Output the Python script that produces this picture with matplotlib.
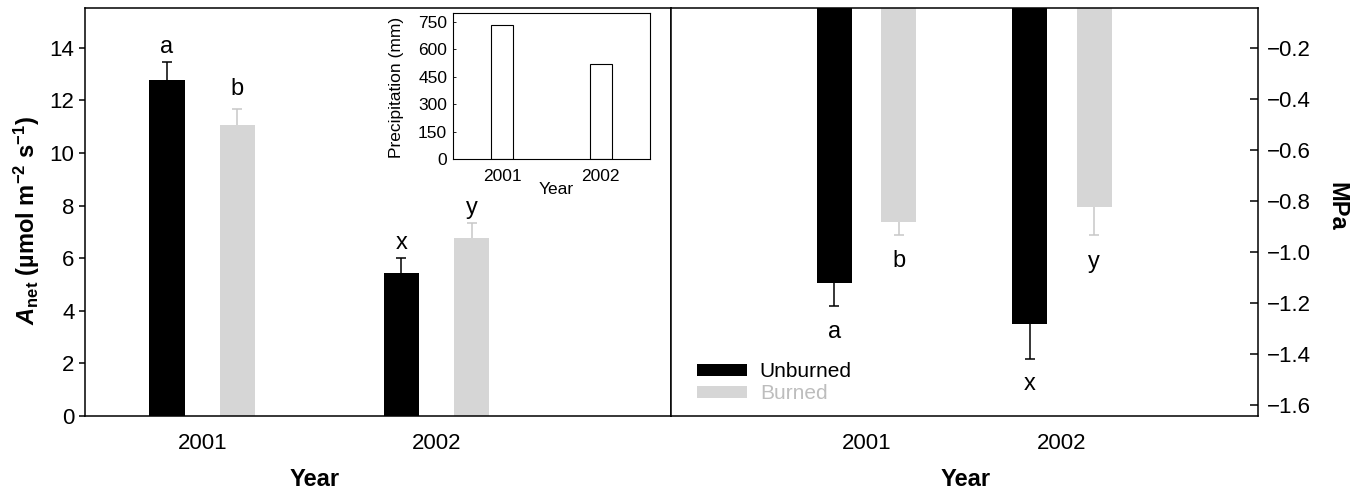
import matplotlib
matplotlib.use('Agg')
import matplotlib.pyplot as plt
from matplotlib.patches import Patch
import numpy as np

plt.rcParams['font.family'] = ['Liberation Sans', 'DejaVu Sans']
plt.rcParams['mathtext.fontset'] = 'custom'
plt.rcParams['mathtext.rm'] = 'Liberation Sans'
plt.rcParams['mathtext.it'] = 'Liberation Sans:italic'
plt.rcParams['mathtext.bf'] = 'Liberation Sans:bold'
plt.rcParams['mathtext.bfit'] = 'Liberation Sans:bold:italic'

years = ['2001', '2002']
# left panel: net photosynthesis
anet_unburned = [12.78, 5.42]
anet_unburned_err = [0.69, 0.57]
anet_burned = [11.08, 6.78]
anet_burned_err = [0.59, 0.56]
anet_letters_unb = ['a', 'x']
anet_letters_bur = ['b', 'y']
anet_letter_y_unb = [14.03, 6.56]
anet_letter_y_bur = [12.44, 7.89]

# right panel: water potential (MPa)
mpa_unburned = [-1.122, -1.281]
mpa_unburned_err = [0.089, 0.139]
mpa_burned = [-0.881, -0.824]
mpa_burned_err = [0.052, 0.109]
mpa_letters_unb = ['a', 'x']
mpa_letters_bur = ['b', 'y']
mpa_letter_y_unb = [-1.313, -1.516]
mpa_letter_y_bur = [-1.034, -1.037]

# inset: precipitation
precip = [733, 518]
precip_ticks = [0, 150, 300, 450, 600, 750]

black = 'black'
gray = '#d6d6d6'
gray_err = '#c8c8c8'

W, H = 1358, 493
fig = plt.figure(figsize=(13.58, 4.93), dpi=100)

def fbox(l, t, r, b):
    return [l / W, 1 - b / H, (r - l) / W, (b - t) / H]

ax1 = fig.add_axes(fbox(85, 8.3, 671, 416))
ax2 = fig.add_axes(fbox(671, 8.3, 1257.5, 416))
axin = fig.add_axes(fbox(452.7, 12.7, 650, 159.3))

x = np.array([1, 2])

def one_sided(ax, xs, ys, err, color, up):
    # error bar on one side only, cap only at the far end
    yerr = [[0] * len(err), err] if up else [err, [0] * len(err)]
    eb = ax.errorbar(xs, ys, yerr=yerr, fmt='none', ecolor=color,
                     elinewidth=1.1, capsize=3.6, capthick=1.1)
    caps = eb[1]
    caps[0 if up else 1].set_visible(False)

# ---- left panel
off1, w1 = 0.15, 0.15
ax1.bar(x - off1, anet_unburned, w1, color=black)
ax1.bar(x + off1, anet_burned, w1, color=gray)
one_sided(ax1, x - off1, anet_unburned, anet_unburned_err, black, True)
one_sided(ax1, x + off1, anet_burned, anet_burned_err, gray_err, True)
for i in range(2):
    ax1.text(x[i] - off1, anet_letter_y_unb[i], anet_letters_unb[i], ha='center', va='center', fontsize=17)
    ax1.text(x[i] + off1, anet_letter_y_bur[i], anet_letters_bur[i], ha='center', va='center', fontsize=17)
ax1.set_xlim(0.5, 3.0)
ax1.set_ylim(0, 15.5)
ax1.set_yticks([0, 2, 4, 6, 8, 10, 12, 14])
ax1.set_xticks(x)
ax1.set_xticklabels(years)
ax1.tick_params(axis='x', length=0, pad=12, labelsize=16)
ax1.tick_params(axis='y', direction='out', length=4.5, width=1.1, pad=3, labelsize=16)
ax1.set_xlabel('Year', fontsize=17, fontweight='bold')
ax1.xaxis.label.set_va('center')
ax1.xaxis.set_label_coords((315 - 85) / 586, (416 - 479) / 407.7)

# ---- right panel
off2, w2 = 0.165, 0.18
ax2.bar(x - off2, mpa_unburned, w2, color=black)
ax2.bar(x + off2, mpa_burned, w2, color=gray)
one_sided(ax2, x - off2, mpa_unburned, mpa_unburned_err, black, False)
one_sided(ax2, x + off2, mpa_burned, mpa_burned_err, gray_err, False)
for i in range(2):
    ax2.text(x[i] - off2, mpa_letter_y_unb[i], mpa_letters_unb[i], ha='center', va='center', fontsize=17)
    ax2.text(x[i] + off2, mpa_letter_y_bur[i], mpa_letters_bur[i], ha='center', va='center', fontsize=17)
ax2.set_xlim(0, 3.0)
ax2.set_ylim(-1.642, -0.043)
ax2.set_yticks([-1.6, -1.4, -1.2, -1.0, -0.8, -0.6, -0.4, -0.2])
ax2.yaxis.tick_right()
ax2.set_xticks(x)
ax2.set_xticklabels(years)
ax2.tick_params(axis='x', length=0, pad=12, labelsize=16)
ax2.tick_params(axis='y', direction='in', length=6, width=1.1, pad=7, labelsize=16)
ax2.set_xlabel('Year', fontsize=17, fontweight='bold')
ax2.xaxis.label.set_va('center')
ax2.xaxis.set_label_coords(0.502, (416 - 480) / 407.7)

handles = [Patch(facecolor=black), Patch(facecolor=gray)]
leg = ax2.legend(handles, ['Unburned', 'Burned'], loc='lower left', frameon=False,
                 fontsize=15, handlelength=2.4, handleheight=0.55, handletextpad=0.6,
                 labelspacing=0.15, borderaxespad=0.3, bbox_to_anchor=(0.02, -0.005))
leg.get_texts()[1].set_color('#bdbdbd')

for ax in (ax1, ax2):
    for s in ax.spines.values():
        s.set_linewidth(1.1)

# ---- inset
axin.bar(x, precip, 0.22, facecolor='white', edgecolor='black', linewidth=0.8)
axin.set_xlim(0.5, 2.5)
axin.set_ylim(0, 800)
axin.set_yticks(precip_ticks)
axin.set_xticks(x)
axin.set_xticklabels(years)
axin.tick_params(axis='x', length=0, pad=7, labelsize=12.5)
axin.tick_params(axis='y', direction='in', length=2, width=0.6, pad=4, labelsize=12.5)
for s in axin.spines.values():
    s.set_linewidth(0.8)
axin.set_xlabel('Year', fontsize=12.5)
axin.xaxis.label.set_va('center')
axin.xaxis.set_label_coords(0.524, -0.203)
axin.set_ylabel('Precipitation (mm)', fontsize=12.5)
axin.yaxis.label.set_va('center')
axin.yaxis.set_label_coords(-0.285, 0.49)

# axis titles drawn at their spots
fig.text(27 / W, 1 - 221 / H,
         r'$\mathbfit{A}_{\mathbf{net}}$ (µmol m$^{\mathbf{-2}}$ s$^{\mathbf{-1}}$)',
         rotation=90, ha='center', va='center', fontsize=17, fontweight='bold')
fig.text(1337 / W, 1 - 206 / H, 'MPa', rotation=270, ha='center', va='center',
         fontsize=17, fontweight='bold')

fig.savefig('out.png', dpi=100)
